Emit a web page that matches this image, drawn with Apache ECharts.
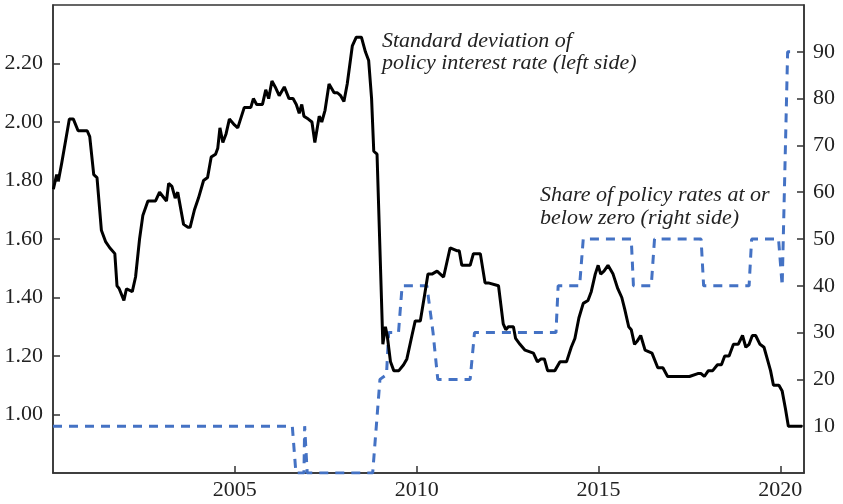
<!DOCTYPE html>
<html>
<head>
<meta charset="utf-8">
<script src="https://cdn.jsdelivr.net/npm/echarts@6/dist/echarts.min.js"></script>
<style>
  html, body { margin: 0; padding: 0; background: #fff; }
  #chart { width: 843px; height: 504px; }
</style>
</head>
<body>
<div id="chart"></div>
<script>
// standard deviation of policy rate (left axis)
var sdYears = [2000.01, 2000.10, 2000.15, 2000.24, 2000.45, 2000.56, 2000.69, 2000.94, 2001.01, 2001.12,
  2001.21, 2001.33, 2001.45, 2001.56, 2001.70, 2001.76, 2001.82, 2001.95, 2002.02, 2002.18,
  2002.27, 2002.38, 2002.47, 2002.61, 2002.82, 2002.93, 2003.12, 2003.18, 2003.27, 2003.36,
  2003.43, 2003.59, 2003.71, 2003.77, 2003.89, 2004.00, 2004.14, 2004.25, 2004.35, 2004.47,
  2004.53, 2004.59, 2004.67, 2004.76, 2004.85, 2004.99, 2005.08, 2005.26, 2005.44, 2005.51,
  2005.60, 2005.76, 2005.85, 2005.93, 2006.02, 2006.11, 2006.22, 2006.36, 2006.49, 2006.60,
  2006.69, 2006.77, 2006.84, 2006.90, 2007.02, 2007.12, 2007.20, 2007.32, 2007.39, 2007.48,
  2007.59, 2007.73, 2007.82, 2007.91, 2008.00, 2008.09, 2008.23, 2008.34, 2008.48, 2008.59,
  2008.68, 2008.76, 2008.82, 2008.91, 2009.07, 2009.14, 2009.19, 2009.28, 2009.37, 2009.51,
  2009.64, 2009.73, 2009.87, 2009.96, 2010.10, 2010.22, 2010.31, 2010.42, 2010.56, 2010.74,
  2010.92, 2011.10, 2011.17, 2011.24, 2011.47, 2011.56, 2011.75, 2011.88, 2011.97, 2012.25,
  2012.38, 2012.45, 2012.52, 2012.66, 2012.72, 2012.84, 2012.98, 2013.21, 2013.32, 2013.42,
  2013.51, 2013.60, 2013.80, 2013.94, 2014.12, 2014.25, 2014.35, 2014.46, 2014.58, 2014.71,
  2014.80, 2014.91, 2014.99, 2015.06, 2015.15, 2015.26, 2015.40, 2015.53, 2015.64, 2015.72,
  2015.83, 2015.90, 2015.99, 2016.06, 2016.16, 2016.28, 2016.47, 2016.63, 2016.77, 2016.90,
  2017.13, 2017.36, 2017.50, 2017.73, 2017.82, 2017.91, 2018.02, 2018.14, 2018.27, 2018.38,
  2018.47, 2018.59, 2018.71, 2018.84, 2018.96, 2019.05, 2019.14, 2019.23, 2019.32, 2019.44,
  2019.55, 2019.64, 2019.73, 2019.81, 2019.96, 2020.05, 2020.14, 2020.22, 2020.60];
var sdValues = [1.77, 1.82, 1.80, 1.86, 2.01, 2.01, 1.97, 1.97, 1.95, 1.82,
  1.81, 1.63, 1.59, 1.57, 1.55, 1.44, 1.43, 1.39, 1.43, 1.42,
  1.47, 1.60, 1.68, 1.73, 1.73, 1.76, 1.73, 1.79, 1.78, 1.74,
  1.76, 1.65, 1.64, 1.64, 1.70, 1.74, 1.80, 1.81, 1.88, 1.89,
  1.91, 1.98, 1.93, 1.96, 2.01, 1.99, 1.98, 2.05, 2.05, 2.08,
  2.06, 2.06, 2.11, 2.08, 2.14, 2.12, 2.09, 2.12, 2.08, 2.08,
  2.06, 2.03, 2.06, 2.02, 2.01, 2.00, 1.93, 2.02, 2.00, 2.04,
  2.13, 2.10, 2.10, 2.09, 2.07, 2.13, 2.26, 2.29, 2.29, 2.24,
  2.21, 2.08, 1.90, 1.89, 1.24, 1.30, 1.27, 1.18, 1.15, 1.15,
  1.17, 1.19, 1.27, 1.32, 1.32, 1.41, 1.48, 1.48, 1.49, 1.47,
  1.57, 1.56, 1.56, 1.51, 1.51, 1.55, 1.55, 1.45, 1.45, 1.44,
  1.31, 1.29, 1.30, 1.30, 1.26, 1.24, 1.22, 1.21, 1.18, 1.19,
  1.19, 1.15, 1.15, 1.18, 1.18, 1.23, 1.26, 1.33, 1.38, 1.39,
  1.42, 1.48, 1.51, 1.48, 1.49, 1.51, 1.48, 1.43, 1.40, 1.36,
  1.30, 1.29, 1.24, 1.25, 1.27, 1.22, 1.21, 1.16, 1.16, 1.13,
  1.13, 1.13, 1.13, 1.14, 1.14, 1.13, 1.15, 1.15, 1.17, 1.17,
  1.20, 1.20, 1.24, 1.24, 1.27, 1.23, 1.24, 1.27, 1.27, 1.24,
  1.23, 1.19, 1.15, 1.10, 1.10, 1.08, 1.02, 0.96, 0.96];

// share of policy rates at or below zero, percent (right axis)
var shareYears = [2000.00, 2006.58, 2006.68, 2006.90, 2006.92, 2006.99, 2008.79, 2008.99, 2009.17, 2009.23,
  2009.50, 2009.60, 2010.28, 2010.45, 2010.58, 2011.47, 2011.59, 2013.83, 2013.89, 2014.48,
  2014.58, 2015.90, 2015.96, 2016.45, 2016.54, 2017.82, 2017.89, 2019.14, 2019.21, 2019.95,
  2020.05, 2020.20, 2020.33];
var shareValues = [10, 10, 0, 0, 10, 0, 0, 20, 21, 30,
  30, 40, 40, 30, 20, 20, 30, 30, 40, 40,
  50, 50, 40, 40, 50, 50, 40, 40, 50, 50,
  40, 90, 90];

var leftTicks = { min: 0.8, max: 2.4, step: 0.2 };
var rightTicks = { min: 0, max: 100, step: 10 };
var yearTicks = { min: 2000, max: 2020.65, step: 5 };

var serif = 'Liberation Serif';

function zip(xs, ys) {
  var out = [];
  for (var i = 0; i < xs.length; i++) out.push([xs[i], ys[i]]);
  return out;
}

var chart = echarts.init(document.getElementById('chart'));

var axisLineStyle = { color: '#333', width: 1.5 };

var option = {
  animation: false,
  backgroundColor: '#fff',
  grid: {
    left: 53, right: 39, top: 5, bottom: 31,
    show: true, borderColor: '#333', borderWidth: 1.5
  },
  xAxis: {
    type: 'value',
    min: yearTicks.min, max: yearTicks.max, interval: yearTicks.step,
    splitLine: { show: false },
    axisLine: { lineStyle: axisLineStyle },
    axisTick: { inside: true, length: 7, lineStyle: axisLineStyle },
    axisLabel: {
      showMinLabel: false, showMaxLabel: false,
      color: '#222', fontFamily: serif, fontSize: 22, margin: 6,
      formatter: function (v) { return String(v); }
    }
  },
  yAxis: [
    {
      type: 'value', position: 'left',
      min: leftTicks.min, max: leftTicks.max, interval: leftTicks.step,
      splitLine: { show: false },
      axisLine: { show: true, lineStyle: axisLineStyle },
      axisTick: { show: true, inside: true, length: 7, lineStyle: axisLineStyle },
      axisLabel: {
        showMinLabel: false, showMaxLabel: false,
        color: '#222', fontFamily: serif, fontSize: 22, margin: 10,
        formatter: function (v) { return v.toFixed(2); }
      }
    },
    {
      type: 'value', position: 'right',
      min: rightTicks.min, max: rightTicks.max, interval: rightTicks.step,
      splitLine: { show: false },
      axisLine: { show: true, lineStyle: axisLineStyle },
      axisTick: { show: true, inside: true, length: 7, lineStyle: axisLineStyle },
      axisLabel: {
        showMinLabel: false, showMaxLabel: false,
        color: '#222', fontFamily: serif, fontSize: 22, margin: 9
      }
    }
  ],
  graphic: [
    {
      type: 'text', left: 382, top: 30,
      style: {
        text: 'Standard deviation of\npolicy interest rate (left side)',
        font: 'italic 22px "Liberation Serif"', fill: '#222', lineHeight: 22
      }
    },
    {
      type: 'text', left: 540, top: 184,
      style: {
        text: 'Share of policy rates at or\nbelow zero (right side)',
        font: 'italic 22px "Liberation Serif"', fill: '#222', lineHeight: 23
      }
    }
  ],
  series: [
    {
      name: 'Share of policy rates at or below zero',
      type: 'line', yAxisIndex: 1, showSymbol: false, symbol: 'none',
      lineStyle: { color: '#4472c4', width: 3, type: [9, 7] },
      data: zip(shareYears, shareValues),
      z: 2
    },
    {
      name: 'Standard deviation of policy interest rate',
      type: 'line', yAxisIndex: 0, showSymbol: false, symbol: 'none',
      lineStyle: { color: '#000', width: 3 },
      data: zip(sdYears, sdValues),
      z: 3
    }
  ]
};

chart.setOption(option);
</script>
</body>
</html>
